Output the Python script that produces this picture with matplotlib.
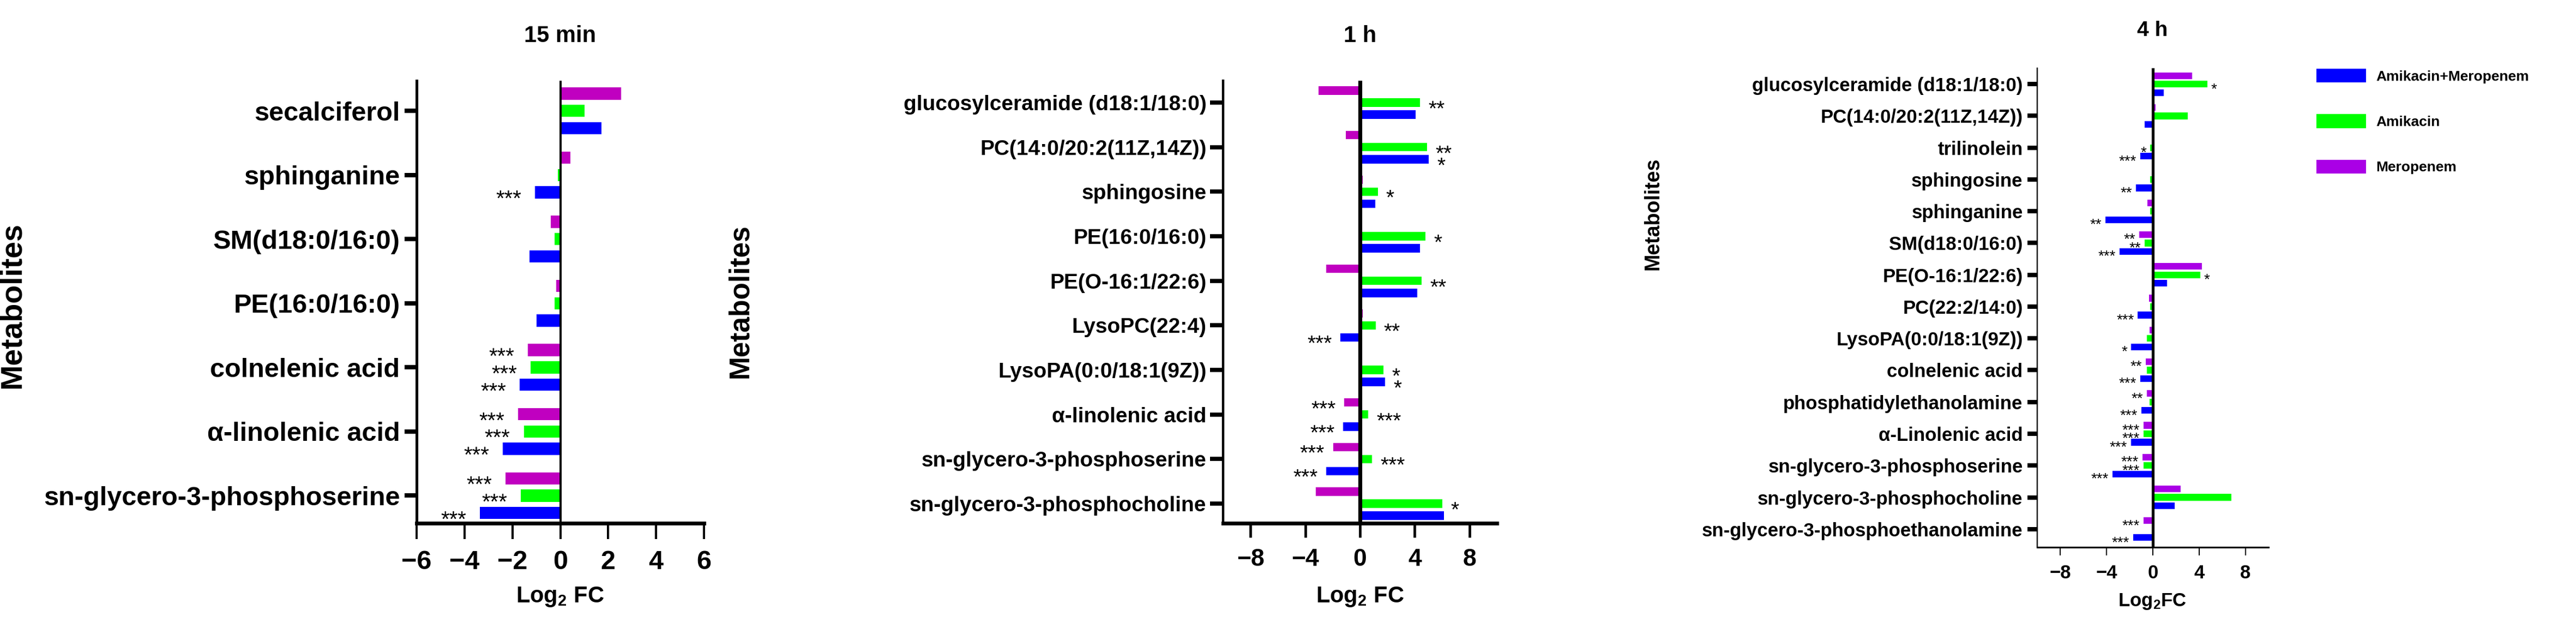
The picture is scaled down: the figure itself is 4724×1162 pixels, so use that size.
import numpy as np
import matplotlib
matplotlib.use('Agg')
import matplotlib.pyplot as plt
from matplotlib.patches import Patch

# ---------------- data ----------------
cats_15 = ['secalciferol', 'sphinganine', 'SM(d18:0/16:0)', 'PE(16:0/16:0)',
           'colnelenic acid', 'α-linolenic acid', 'sn-glycero-3-phosphoserine']
mero_15 = [2.55, 0.42, -0.40, -0.16, -1.35, -1.76, -2.29]
amik_15 = [1.02, -0.11, -0.23, -0.23, -1.23, -1.52, -1.64]
combo_15 = [1.72, -1.05, -1.28, -0.98, -1.69, -2.40, -3.35]
sig_mero_15 = ['', '', '', '', '***', '***', '***']
sig_amik_15 = ['', '', '', '', '***', '***', '***']
sig_combo_15 = ['', '***', '', '', '***', '***', '***']

cats_1h = ['glucosylceramide (d18:1/18:0)', 'PC(14:0/20:2(11Z,14Z))', 'sphingosine',
           'PE(16:0/16:0)', 'PE(O-16:1/22:6)', 'LysoPC(22:4)', 'LysoPA(0:0/18:1(9Z))',
           'α-linolenic acid', 'sn-glycero-3-phosphoserine', 'sn-glycero-3-phosphocholine']
mero_1h = [-3.02, -1.05, 0.2, 0.0, -2.49, 0.2, 0.0, -1.14, -1.97, -3.21]
amik_1h = [4.40, 4.90, 1.30, 4.79, 4.49, 1.14, 1.73, 0.59, 0.89, 6.03]
combo_1h = [4.08, 5.02, 1.11, 4.40, 4.19, -1.43, 1.83, -1.25, -2.48, 6.14]
sig_mero_1h = ['', '', '', '', '', '', '', '***', '***', '']
sig_amik_1h = ['**', '**', '*', '*', '**', '**', '*', '***', '***', '*']
sig_combo_1h = ['', '*', '', '', '', '***', '*', '***', '***', '']

cats_4h = ['glucosylceramide (d18:1/18:0)', 'PC(14:0/20:2(11Z,14Z))', 'trilinolein',
           'sphingosine', 'sphinganine', 'SM(d18:0/16:0)', 'PE(O-16:1/22:6)',
           'PC(22:2/14:0)', 'LysoPA(0:0/18:1(9Z))', 'colnelenic acid',
           'phosphatidylethanolamine', 'α-Linolenic acid', 'sn-glycero-3-phosphoserine',
           'sn-glycero-3-phosphocholine', 'sn-glycero-3-phosphoethanolamine']
mero_4h = [3.38, 0.24, 0.0, 0.0, -0.47, -1.19, 4.23, -0.35, -0.3, -0.6, -0.5, -0.8, -0.9, 2.4, -0.8]
amik_4h = [4.72, 3.02, -0.24, -0.24, -0.24, -0.72, 4.10, -0.24, -0.5, -0.5, -0.3, -0.8, -0.8, 6.8, 0.0]
combo_4h = [0.96, -0.72, -1.08, -1.45, -4.10, -2.89, 1.21, -1.3, -1.9, -1.1, -1.0, -1.9, -3.5, 1.9, -1.7]
sig_mero_4h = ['', '', '', '', '', '**', '', '', '', '**', '**', '***', '***', '', '***']
sig_amik_4h = ['*', '', '*', '', '', '**', '*', '', '', '', '', '***', '***', '', '']
sig_combo_4h = ['', '', '***', '**', '**', '***', '', '***', '*', '***', '***', '***', '***', '', '***']

titles = ['15 min', '1 h', '4 h']
series_names = ['Amikacin+Meropenem', 'Amikacin', 'Meropenem']

BLUE = '#0000FF'
GREEN = '#00FF00'
MAG = '#C000C0'
PURP = '#AA00E6'

# ---------------- style ----------------
W, H = 4724, 1162
FONT = ['Liberation Sans', 'DejaVu Sans']
plt.rcParams['font.family'] = FONT
plt.rcParams['font.weight'] = 'bold'
plt.rcParams['mathtext.fontset'] = 'custom'
plt.rcParams['mathtext.rm'] = 'Liberation Sans:bold'
plt.rcParams['mathtext.default'] = 'rm'

fig = plt.figure(figsize=(W / 100, H / 100), dpi=100)


def rect(x0, y0, x1, y1):
    return [x0 / W, 1 - y1 / H, (x1 - x0) / W, (y1 - y0) / H]


def fx(x):
    return x / W


def fy(y):
    return 1 - y / H


def draw(ax, cats, mero, amik, combo, smero, samik, scombo, cmag, xlim, xticks, ylim,
         off, bh, lab_fs, tick_fs, star_fs, gap, lw_left, lw_bottom, lw_zero,
         yt_w, yt_len, yt_pad, xt_w, xt_len, xt_pad):
    y = np.arange(len(cats))
    ax.barh(y - off, mero, height=bh, color=cmag, linewidth=0, zorder=2)
    ax.barh(y, amik, height=bh, color=GREEN, linewidth=0, zorder=2)
    ax.barh(y + off, combo, height=bh, color=BLUE, linewidth=0, zorder=2)
    ax.axvline(0, color='black', lw=lw_zero, zorder=3)
    for vals, sigs, dy in ((mero, smero, -off), (amik, samik, 0.0), (combo, scombo, off)):
        for i, (v, s) in enumerate(zip(vals, sigs)):
            if not s:
                continue
            sgn = 1 if v >= 0 else -1
            ax.annotate(s, xy=(v, i + dy), xytext=(sgn * gap, -0.6 * star_fs),
                        textcoords='offset points', ha='left' if sgn > 0 else 'right',
                        va='baseline', fontsize=star_fs, fontweight='normal', zorder=4)
    ax.set_xlim(*xlim)
    ax.set_xticks(xticks)
    ax.set_ylim(*ylim)
    ax.set_yticks(y)
    ax.set_yticklabels(cats)
    for sp in ('top', 'right'):
        ax.spines[sp].set_visible(False)
    ax.spines['left'].set_linewidth(lw_left)
    ax.spines['bottom'].set_linewidth(lw_bottom)
    ax.tick_params(axis='y', width=yt_w, length=yt_len, pad=yt_pad, labelsize=lab_fs)
    ax.tick_params(axis='x', width=xt_w, length=xt_len, pad=xt_pad, labelsize=tick_fs)


ax1 = fig.add_axes(rect(764, 148, 1291, 959))
draw(ax1, cats_15, mero_15, amik_15, combo_15, sig_mero_15, sig_amik_15, sig_combo_15, MAG,
     (-6, 6), [-6, -4, -2, 0, 2, 4, 6], (6.43, -0.47), 0.27, 0.19,
     35, 35, 29, 18, 3.7, 5.0, 2.9, 5.8, 16, 6, 2.9, 21, 14)

ax2 = fig.add_axes(rect(2243, 148, 2745, 959))
draw(ax2, cats_1h, mero_1h, amik_1h, combo_1h, sig_mero_1h, sig_amik_1h, sig_combo_1h, MAG,
     (-10, 10), [-8, -4, 0, 4, 8], (9.44, -0.49), 0.27, 0.19,
     28, 32, 28, 11, 3.2, 5.0, 5.2, 5.5, 17, 5, 3.4, 19, 14)

ax3 = fig.add_axes(rect(3736, 125, 4160, 1003))
draw(ax3, cats_4h, mero_4h, amik_4h, combo_4h, sig_mero_4h, sig_amik_4h, sig_combo_4h, PURP,
     (-10, 10), [-8, -4, 0, 4, 8], (14.57, -0.5), 0.266, 0.21,
     25, 25, 20, 5, 1.7, 2.2, 3.6, 5.8, 13, 6, 1.5, 11, 11)

# titles
fig.text(fx(1027), fy(66), titles[0], ha='center', va='center', fontsize=30)
fig.text(fx(2494), fy(66), titles[1], ha='center', va='center', fontsize=30)
fig.text(fx(3947), fy(56), titles[2], ha='center', va='center', fontsize=28)

# x labels
fig.text(fx(1027), fy(1094), 'Log$_2$ FC', ha='center', va='center', fontsize=30)
fig.text(fx(2494), fy(1094), 'Log$_2$ FC', ha='center', va='center', fontsize=30)
fig.text(fx(3947), fy(1103), 'Log$_2$FC', ha='center', va='center', fontsize=25)

# y labels
fig.text(fx(23), fy(560), 'Metabolites', rotation=90, ha='center', va='center', fontsize=40)
fig.text(fx(1358), fy(552), 'Metabolites', rotation=90, ha='center', va='center', fontsize=37)
fig.text(fx(3031), fy(392), 'Metabolites', rotation=90, ha='center', va='center', fontsize=27)

# legend
handles = [Patch(facecolor=BLUE, edgecolor='none'),
           Patch(facecolor=GREEN, edgecolor='none'),
           Patch(facecolor=PURP, edgecolor='none')]
fig.legend(handles, series_names, loc='upper left', bbox_to_anchor=(fx(4248), fy(126)),
           frameon=False, fontsize=19, handlelength=3.45, handleheight=1.1,
           labelspacing=2.15, handletextpad=0.7, borderpad=0, borderaxespad=0)

fig.savefig('out.png', dpi=100)
